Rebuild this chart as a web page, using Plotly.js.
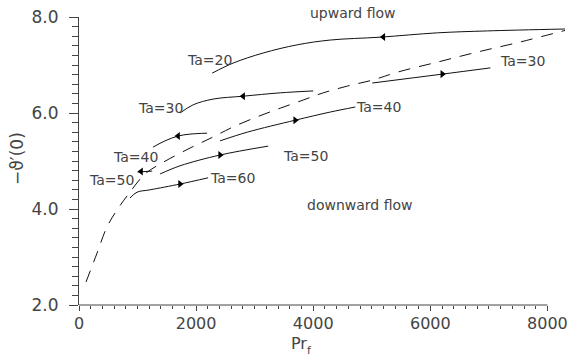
<!DOCTYPE html>
<html>
<head>
<meta charset="utf-8">
<script src="https://cdn.plot.ly/plotly-3.0.1.min.js"></script>
<style>html,body{margin:0;padding:0;background:#fff;}#chart{width:568px;height:356px;}</style>
</head>
<body>
<div id="chart"></div>
<script>
// Curves (x = Pr_f, y = -theta'(0))
const ta20X = [2274, 2632, 3145, 3726, 4291, 5145, 6120, 6974, 8300];
const ta20Y = [6.83, 7.04, 7.25, 7.42, 7.52, 7.58, 7.67, 7.71, 7.75];
const ta30LX = [1726, 1949, 2291, 2803, 3436, 4000];
const ta30LY = [6.00, 6.17, 6.29, 6.35, 6.42, 6.46];
const ta30RX = [5009, 6205, 7026];
const ta30RY = [6.625, 6.81, 6.94];
const ta40UX = [1265, 1470, 1692, 1897, 2188];
const ta40UY = [5.29, 5.42, 5.52, 5.56, 5.58];
const ta40LX = [2410, 2872, 3692, 4291, 4718];
const ta40LY = [5.42, 5.60, 5.85, 6.02, 6.125];
const ta50UX = [1000, 1250];
const ta50UY = [4.77, 4.79];
const ta50LX = [1385, 1726, 2410, 3231];
const ta50LY = [4.73, 4.90, 5.125, 5.31];
const ta60X = [872, 991, 1214, 1726, 2205];
const ta60Y = [4.23, 4.35, 4.40, 4.52, 4.65];
const dashX = [120, 308, 479, 650, 820, 1128, 1419, 1897, 2290, 2632, 3043, 3436, 3829, 4171, 4581, 5026, 5436, 6120, 6803, 7538, 8300];
const dashY = [2.48, 3.08, 3.63, 3.98, 4.27, 4.73, 4.96, 5.27, 5.50, 5.71, 5.92, 6.10, 6.27, 6.42, 6.56, 6.69, 6.85, 7.06, 7.27, 7.48, 7.72];

// Direction arrows on the curves
const arrowLeftX = [5197, 2803, 1692, 1060];
const arrowLeftY = [7.585, 6.35, 5.52, 4.78];
const arrowRightX = [6205, 3692, 2410, 1726];
const arrowRightY = [6.81, 5.85, 5.125, 4.52];

// Curve labels (data coordinates)
const labelText = ['Ta=20', 'Ta=30', 'Ta=40', 'Ta=50', 'Ta=30', 'Ta=40', 'Ta=50', 'Ta=60', 'downward flow'];
const labelX = [2222, 1385, 957, 547, 7573, 5111, 3863, 2615, 4803];
const labelY = [7.10, 6.10, 5.08, 4.60, 7.08, 6.125, 5.10, 4.65, 4.08];
// Region label above the plot (x in data units, y in paper units)
const topLabelText = 'upward flow';
const topLabelX = 4667;
const topLabelY = 1.015;

const xTickVals = [0, 2000, 4000, 6000, 8000];
const xTickText = ['0', '2000', '4000', '6000', '8000'];
const yTickVals = [2, 4, 6, 8];
const yTickText = ['2.0', '4.0', '6.0', '8.0'];

const minorX = [];
for (let v = 0; v <= 8000; v += 200) minorX.push(v);

const solid = {color: '#111', width: 1};
function curve(x, y) {
  return {x: x, y: y, type: 'scatter', mode: 'lines', line: Object.assign({shape: 'spline'}, solid), hoverinfo: 'skip', showlegend: false};
}
const traces = [
  curve(ta20X, ta20Y), curve(ta30LX, ta30LY), curve(ta30RX, ta30RY),
  curve(ta40UX, ta40UY), curve(ta40LX, ta40LY), curve(ta50UX, ta50UY),
  curve(ta50LX, ta50LY), curve(ta60X, ta60Y),
  {x: dashX, y: dashY, type: 'scatter', mode: 'lines', line: {color: '#111', width: 1, dash: '12px,9px', shape: 'spline'}, hoverinfo: 'skip', showlegend: false},
  {x: arrowLeftX, y: arrowLeftY, type: 'scatter', mode: 'markers', marker: {symbol: 'triangle-left', size: 7, color: '#000'}, hoverinfo: 'skip', showlegend: false},
  {x: arrowRightX, y: arrowRightY, type: 'scatter', mode: 'markers', marker: {symbol: 'triangle-right', size: 7, color: '#000'}, hoverinfo: 'skip', showlegend: false}
];

const fontFam = 'DejaVu Sans, sans-serif';
const annotations = labelText.map((t, i) => ({
  x: labelX[i], y: labelY[i], xref: 'x', yref: 'y', text: t, showarrow: false,
  xanchor: 'center', yanchor: 'middle', font: {family: fontFam, size: 14, color: '#444'}
}));
annotations.push({x: topLabelX, y: topLabelY, xref: 'x', yref: 'paper', text: topLabelText, showarrow: false,
  xanchor: 'center', yanchor: 'middle', font: {family: fontFam, size: 14, color: '#444'}});
// x-axis title "Pr" with subscript "f"
annotations.push({x: 3932, y: -0.135, xref: 'x', yref: 'paper', text: 'Pr', showarrow: false,
  xanchor: 'right', yanchor: 'middle', font: {family: fontFam, size: 16, color: '#444'}});
annotations.push({x: 3860, y: -0.158, xref: 'x', yref: 'paper', text: 'f', showarrow: false,
  xanchor: 'left', yanchor: 'middle', font: {family: fontFam, size: 11, color: '#444'}});
annotations.push({x: -0.128, y: 0.51, xref: 'paper', yref: 'paper', text: '\u2212\u03D1\u2032(0)', showarrow: false, textangle: -90,
  xanchor: 'center', yanchor: 'middle', font: {family: fontFam, size: 17, color: '#444'}});

const layout = {
  width: 568, height: 356,
  margin: {l: 79, r: 3, t: 17, b: 51},
  paper_bgcolor: '#fff', plot_bgcolor: '#fff',
  font: {family: fontFam, color: '#444'},
  showlegend: false,
  xaxis: {
    range: [0, 8300], showline: false, zeroline: false, showgrid: false,
    tickmode: 'array', tickvals: xTickVals, ticktext: xTickText,
    ticks: 'outside', ticklen: 5, tickcolor: '#444', tickwidth: 1,
    ticklabeloverflow: 'allow', ticklabelstandoff: -1,
    tickfont: {family: fontFam, size: 16, color: '#444'},
    minor: {tickmode: 'array', tickvals: minorX, ticks: 'outside', ticklen: 3, tickcolor: '#444', showgrid: false}
  },
  yaxis: {
    range: [2, 8], showline: true, linecolor: '#444', linewidth: 1, zeroline: false, showgrid: false,
    tickmode: 'array', tickvals: yTickVals, ticktext: yTickText,
    ticks: 'outside', ticklen: 9, tickcolor: '#444', tickwidth: 1,
    ticklabelstandoff: 7,
    tickfont: {family: fontFam, size: 17, color: '#444'},
    minor: {dtick: 0.2, ticks: 'outside', ticklen: 6, tickcolor: '#444', showgrid: false}
  },
  shapes: [
    {type: 'line', xref: 'x', yref: 'paper', x0: -150, x1: 8000, y0: 0, y1: 0, line: {color: '#444', width: 1}}
  ],
  annotations: annotations
};

Plotly.newPlot('chart', traces, layout, {staticPlot: true, displayModeBar: false});
</script>
</body>
</html>
